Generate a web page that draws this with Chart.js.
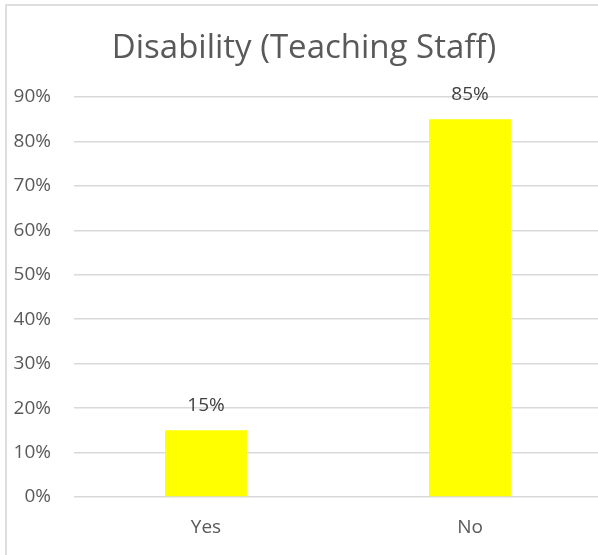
<!DOCTYPE html>
<html>
<head>
<meta charset="utf-8">
<script src="https://cdn.jsdelivr.net/npm/chart.js@4"></script>
<style>
  html, body { margin: 0; padding: 0; background: #fff; overflow: hidden; }
  #wrap { position: relative; width: 598px; height: 555px; overflow: hidden; }
  #frame { position: absolute; left: 5px; top: 4px; width: 700px; height: 700px;
           border: 2px solid #dedede; box-sizing: border-box; }
  #box { position: absolute; left: 0; top: 0; width: 602px; height: 555px; }
</style>
</head>
<body>
<div id="wrap">
  <div id="frame"></div>
  <div id="box"><canvas id="c"></canvas></div>
</div>
<script>
// Доля сотрудников с инвалидностью (преподавательский состав)
const categories = ['Yes', 'No'];
const shares = [15, 85];
const yTicks = [0, 10, 20, 30, 40, 50, 60, 70, 80, 90];

const textColor = '#595959';
const gridColor = '#d9d9d9';
const fontFamily = '"Open Sans", "Liberation Sans", sans-serif';

// Подписи значений над столбцами
const valueLabels = {
  id: 'valueLabels',
  afterDatasetsDraw(chart) {
    const ctx = chart.ctx;
    const meta = chart.getDatasetMeta(0);
    ctx.save();
    ctx.font = '19px ' + fontFamily;
    ctx.fillStyle = '#404040';
    ctx.textAlign = 'center';
    ctx.textBaseline = 'middle';
    meta.data.forEach((bar, i) => {
      ctx.fillText(shares[i] + '%', bar.x, bar.y - 25);
    });
    ctx.restore();
  }
};

new Chart(document.getElementById('c'), {
  type: 'bar',
  data: {
    labels: categories,
    datasets: [{
      data: shares,
      backgroundColor: '#ffff00',
      borderWidth: 0,
      categoryPercentage: 1,
      barPercentage: 0.31,
    }]
  },
  options: {
    responsive: true,
    maintainAspectRatio: false,
    animation: false,
    layout: { padding: { left: 6, right: 0, top: 0, bottom: 0 } },
    plugins: {
      legend: { display: false },
      tooltip: { enabled: false },
      title: {
        display: true,
        text: 'Disability (Teaching Staff)',
        color: textColor,
        font: { family: fontFamily, size: 33, weight: 'normal' },
        padding: { top: 28.5, bottom: 28.9 },
      },
    },
    scales: {
      x: {
        grid: { display: false, drawTicks: false },
        border: { display: false },
        ticks: { color: textColor, font: { family: fontFamily, size: 19 }, padding: 19 },
        afterFit: (s) => { s.height = 58; },
      },
      y: {
        min: 0,
        max: 90,
        afterBuildTicks: (s) => { s.ticks = yTicks.map(v => ({ value: v })); },
        grid: { color: gridColor, lineWidth: 1.5, drawTicks: false },
        border: { display: false },
        ticks: {
          color: textColor,
          font: { family: fontFamily, size: 19 },
          padding: 23,
          callback: (v) => v + '%',
        },
        afterFit: (s) => { s.width = 68; },
      },
    },
  },
  plugins: [valueLabels],
});
</script>
</body>
</html>
